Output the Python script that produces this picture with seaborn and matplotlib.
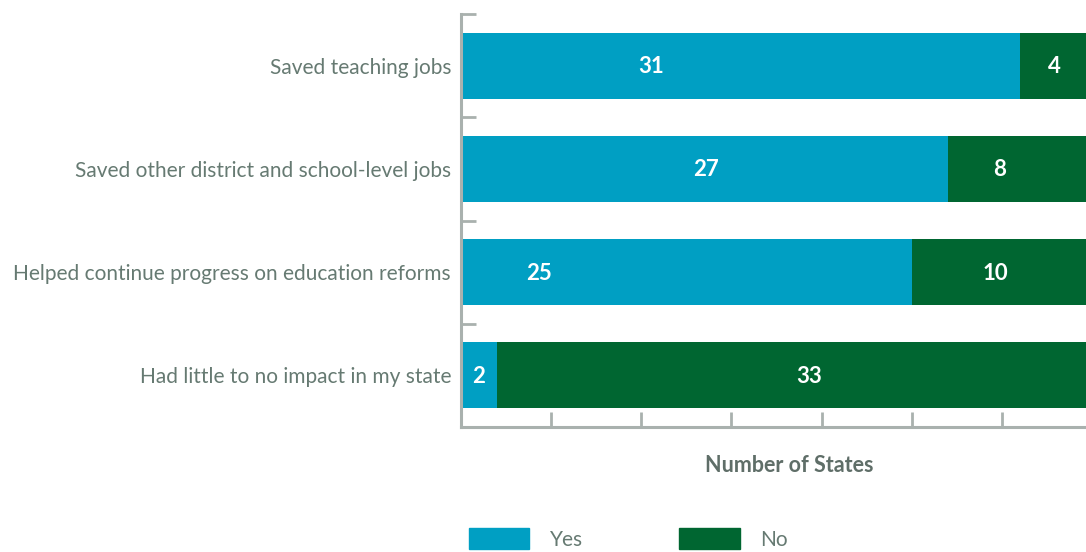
import pandas as pd
import numpy as np
import matplotlib
matplotlib.use('Agg')
import matplotlib.pyplot as plt
import matplotlib.patches as mpatches
import seaborn as sns

categories = ['Saved teaching jobs',
              'Saved other district and school-level jobs',
              'Helped continue progress on education reforms',
              'Had little to no impact in my state']
yes_vals = [31, 27, 25, 2]
no_vals = [4, 8, 10, 33]

# where the value labels sit along the bar (in number-of-states units)
yes_label_x = [10.55, 13.6, 4.3, 1.0]
no_label_x = [32.9, 29.9, 29.65, 19.3]

yes_color = '#009fc3'
no_color = '#006631'
text_color = '#667a72'
spine_color = '#a9b1ae'

sns.set_style('white')
plt.rcParams['font.family'] = ['Lato', 'DejaVu Sans']

df = pd.DataFrame({'category': categories, 'Yes': yes_vals, 'No': no_vals})
df['total'] = df['Yes'] + df['No']

fig = plt.figure(figsize=(10.86, 5.52), dpi=100)
ax = fig.add_axes([461 / 1086, 1 - 427 / 552, 631 / 1086, 413 / 552])

# stacked: total in green, yes drawn over it in blue
sns.barplot(data=df, y='category', x='total', color=no_color, orient='h',
            width=0.64, saturation=1, linewidth=0, ax=ax)
sns.barplot(data=df, y='category', x='Yes', color=yes_color, orient='h',
            width=0.64, saturation=1, linewidth=0, ax=ax)

for i, row in df.iterrows():
    ax.text(yes_label_x[i], i + 0.01, str(row['Yes']), ha='center',
            va='center', color='white', fontsize=16, fontweight='bold')
    ax.text(no_label_x[i], i + 0.01, str(row['No']), ha='center',
            va='center', color='white', fontsize=16, fontweight='bold')

ax.set_xlim(0, 35)
ax.set_ylim(3.5, -0.5)
ax.set_xticks(np.arange(5, 35, 5))
ax.set_xticklabels([])
ax.set_yticks(np.arange(-0.5, 3.5, 1))
ax.set_yticklabels([])
ax.tick_params(axis='both', direction='in', length=11, width=2,
               color=spine_color, left=True, bottom=True)
ax.set_xlabel('')
ax.set_ylabel('')

for s in ['top', 'right']:
    ax.spines[s].set_visible(False)
for s in ['left', 'bottom']:
    ax.spines[s].set_color(spine_color)
    ax.spines[s].set_linewidth(2.2)

for i, cat in enumerate(categories):
    ax.text(-0.55, i + 0.02, cat, ha='right', va='center', color=text_color,
            fontsize=15)

fig.text(789 / 1086, 1 - 465 / 552, 'Number of States', ha='center',
         va='center', color='#5f6e68', fontsize=15.5, fontweight='bold')

handles = [mpatches.Patch(color=yes_color, label='Yes'),
           mpatches.Patch(color=no_color, label='No')]
fig.legend(handles=handles, loc='upper left',
           bbox_to_anchor=(469 / 1086, 1 - 528 / 552), ncol=2, frameon=False,
           fontsize=15, labelcolor=text_color, handlelength=2.9,
           handleheight=1.2, handletextpad=1.0, columnspacing=4.6,
           borderpad=0, borderaxespad=0)

fig.savefig('out.png', dpi=100)
